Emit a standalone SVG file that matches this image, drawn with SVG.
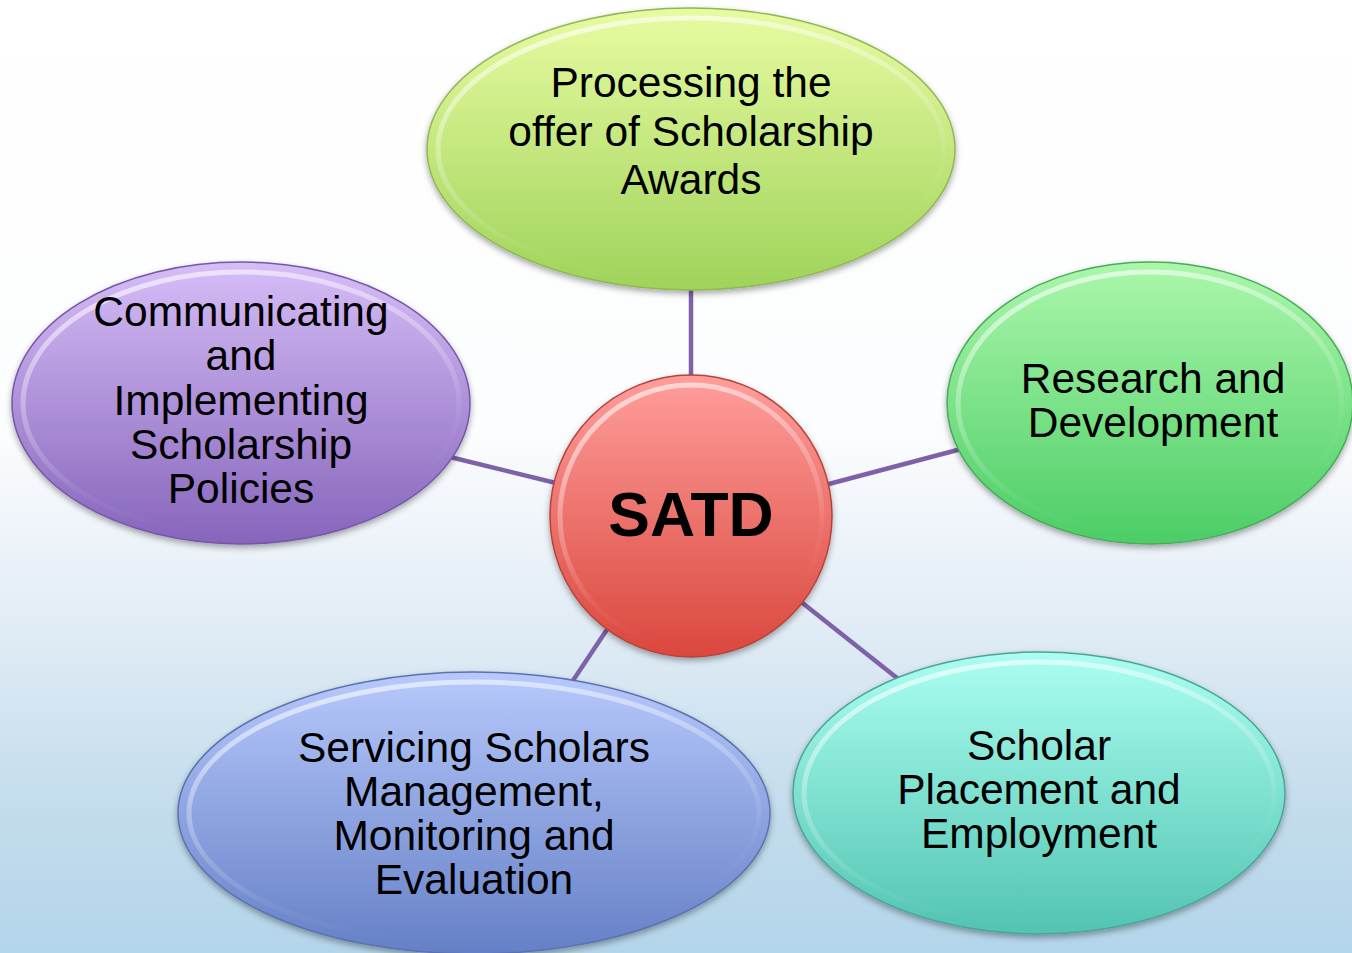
<svg xmlns="http://www.w3.org/2000/svg" width="1352" height="953" viewBox="0 0 1352 953">
<defs>
<linearGradient id="bg" x1="0" y1="0" x2="0" y2="1">
<stop offset="0" stop-color="#ffffff"/>
<stop offset="0.45" stop-color="#fcfdfe"/>
<stop offset="0.62" stop-color="#e6eff7"/>
<stop offset="0.85" stop-color="#c3dcec"/>
<stop offset="1" stop-color="#b3d5ea"/>
</linearGradient>
<linearGradient id="gLime" x1="0" y1="0" x2="0" y2="1">
<stop offset="0" stop-color="#e8fba2"/><stop offset="1" stop-color="#9fd35a"/>
</linearGradient>
<linearGradient id="gPurple" x1="0" y1="0" x2="0" y2="1">
<stop offset="0" stop-color="#d6bdf7"/><stop offset="1" stop-color="#8665bb"/>
</linearGradient>
<linearGradient id="gGreen" x1="0" y1="0" x2="0" y2="1">
<stop offset="0" stop-color="#abf7ab"/><stop offset="1" stop-color="#4ccd66"/>
</linearGradient>
<linearGradient id="gTeal" x1="0" y1="0" x2="0" y2="1">
<stop offset="0" stop-color="#abfef1"/><stop offset="1" stop-color="#53c4b1"/>
</linearGradient>
<linearGradient id="gBlue" x1="0" y1="0" x2="0" y2="1">
<stop offset="0" stop-color="#b7c9fc"/><stop offset="1" stop-color="#6580c6"/>
</linearGradient>
<linearGradient id="gRed" x1="0" y1="0" x2="0" y2="1">
<stop offset="0" stop-color="#ff9e9c"/><stop offset="1" stop-color="#da473d"/>
</linearGradient>
<linearGradient id="rim" x1="0" y1="0" x2="0.35" y2="1">
<stop offset="0" stop-color="#ffffff" stop-opacity="0.7"/>
<stop offset="0.45" stop-color="#ffffff" stop-opacity="0.3"/>
<stop offset="0.8" stop-color="#ffffff" stop-opacity="0.05"/>
<stop offset="1" stop-color="#ffffff" stop-opacity="0"/>
</linearGradient>
<filter id="sh" x="-10%" y="-10%" width="120%" height="125%">
<feDropShadow dx="0" dy="3" stdDeviation="3" flood-color="#000" flood-opacity="0.35"/>
</filter>
</defs>
<style>
.outer{stroke-width:1.5;filter:url(#sh)}
.inner{fill:none;stroke:url(#rim);stroke-width:5}
.lbl{font-family:"Liberation Sans",Arial,sans-serif;font-size:42.5px;fill:#000;text-anchor:middle}
.big{font-family:"Liberation Sans",Arial,sans-serif;font-size:62.5px;font-weight:bold;fill:#000;text-anchor:middle}
.conn{stroke:#7e62a8;stroke-width:4.5;fill:none}
</style>
<rect x="0" y="0" width="1352" height="953" fill="url(#bg)"/>
<g id="connectors">
<line class="conn" x1="691" y1="280" x2="691" y2="380"/>
<line class="conn" x1="450" y1="457" x2="560" y2="484"/>
<line class="conn" x1="825" y1="485" x2="965" y2="448"/>
<line class="conn" x1="612" y1="622" x2="570" y2="685"/>
<line class="conn" x1="800" y1="601" x2="902" y2="682"/>
</g>
<g id="node-top">
<ellipse class="outer" cx="691" cy="149" rx="264" ry="141" fill="url(#gLime)" stroke="#8fb752"/>
<ellipse class="inner" cx="691" cy="149" rx="253" ry="131"/>
<text class="lbl" x="691" y="97">Processing the</text>
<text class="lbl" x="691" y="146">offer of Scholarship</text>
<text class="lbl" x="691" y="194">Awards</text>
</g>
<g id="node-left">
<ellipse class="outer" cx="241" cy="403" rx="229" ry="141" fill="url(#gPurple)" stroke="#7657a8"/>
<ellipse class="inner" cx="241" cy="403" rx="218" ry="131"/>
<text class="lbl" x="241" y="326">Communicating</text>
<text class="lbl" x="241" y="370">and</text>
<text class="lbl" x="241" y="415">Implementing</text>
<text class="lbl" x="241" y="459">Scholarship</text>
<text class="lbl" x="241" y="503">Policies</text>
</g>
<g id="node-right">
<ellipse class="outer" cx="1150" cy="403" rx="203" ry="141" fill="url(#gGreen)" stroke="#4aaa5a"/>
<ellipse class="inner" cx="1150" cy="403" rx="192" ry="131"/>
<text class="lbl" x="1153" y="393">Research and</text>
<text class="lbl" x="1153" y="437">Development</text>
</g>
<g id="node-bottom-right">
<ellipse class="outer" cx="1039" cy="793" rx="246" ry="141" fill="url(#gTeal)" stroke="#4aa596"/>
<ellipse class="inner" cx="1039" cy="793" rx="235" ry="131"/>
<text class="lbl" x="1039" y="760">Scholar</text>
<text class="lbl" x="1039" y="804">Placement and</text>
<text class="lbl" x="1039" y="848">Employment</text>
</g>
<g id="node-bottom-left">
<ellipse class="outer" cx="474" cy="813" rx="296" ry="141" fill="url(#gBlue)" stroke="#5c72b0"/>
<ellipse class="inner" cx="474" cy="813" rx="285" ry="131"/>
<text class="lbl" x="474" y="762">Servicing Scholars</text>
<text class="lbl" x="474" y="806">Management,</text>
<text class="lbl" x="474" y="850">Monitoring and</text>
<text class="lbl" x="474" y="894">Evaluation</text>
</g>
<g id="node-center">
<circle class="outer" cx="691" cy="516" r="141" fill="url(#gRed)" stroke="#b5433b"/>
<circle class="inner" cx="691" cy="516" r="131"/>
<text class="big" x="691" y="536">SATD</text>
</g>
</svg>
